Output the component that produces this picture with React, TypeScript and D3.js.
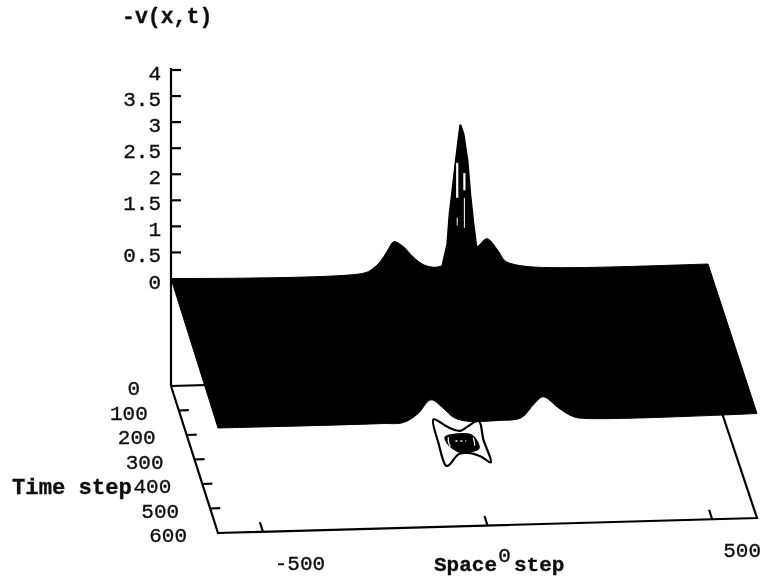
import React from "react";
import * as d3 from "d3";

// Axis ticks
const zTicks = [0.5, 1, 1.5, 2, 2.5, 3, 3.5, 4];
const zLabels = ["0", "0.5", "1", "1.5", "2", "2.5", "3", "3.5", "4"];
const tTicks = [100, 200, 300, 400, 500];
const tLabels = [0, 100, 200, 300, 400, 500, 600];
const xTicks = [-500, 0, 500];

// Surface edge profile at t = 0: space position, height
const backX = [-600, -171, -150, -133, -117, -102, -82, -59, -39, -21, 0, 84, 106, 128, 146, 164, 202, 300, 600];
const backZ = [0, 0, 0.08, 0.21, 0.41, 0.59, 0.5, 0.29, 0.15, 0.09, 0.09, 0.45, 0.6, 0.4, 0.17, 0.1, 0.04, 0, 0];

// Surface edge profile at t = 600
const frontX = [-600, -238, -187, -155, -126, -97, -75, -44, 23, 75, 104, 124, 158, 187, 209, 600];
const frontZ = [0, 0, 0.01, 0.17, 0.43, 0.25, 0.08, 0, 0, 0.04, 0.3, 0.43, 0.21, 0.05, 0, 0];

// Central peak silhouette at t = 255
const peakX = [-45, -39, -28, -23, -17, -10, -3, 1, 8, 17, 23, 30, 37, 42];
const peakZ = [0, 1.33, 1.75, 2.32, 2.75, 3.27, 3.76, 4.03, 3.85, 3.33, 2.7, 2.13, 1.66, 0];

// Gaps between the mesh lines of the peak, t = 255: space position, height from, height to
const gapX = [-6, 10, -6, 10];
const gapFrom = [3.3, 3.1, 2.25, 2.62];
const gapTo = [2.63, 2.77, 2.1, 2.05];

// Contours on the floor: space position, time
const outerX = [-43, -16, 8, 27, 48, 57, 53, 53, 35, 8, -12, -43, -49, -49];
const outerT = [165, 198, 214, 198, 178, 178, 251, 345, 320, 304, 308, 353, 353, 263];
const innerX = [-30, -1, 28, 38, 36, -7, -21, -29];
const innerT = [239, 227, 231, 263, 288, 300, 284, 263];
const arcLX = [-23, -26, -25];
const arcLT = [239, 259, 276];
const arcRX = [32, 31, 29];
const arcRT = [243, 263, 276];
const centerX = [-10, 14];
const centerT = [255, 255];

const u = d3.scaleLinear().domain([-600, 600]).range([0, 1]);
const v = d3.scaleLinear().domain([0, 600]).range([0, 1]);
const zPx = d3.scaleLinear().domain([0, 4]).range([0, 208.5]);

const planeX = (x: number, t: number) => 171 + 537 * u(x) + 47 * v(t) + 2 * u(x) * v(t);
const surfY = (x: number, t: number, z: number) => 278.5 - 14.5 * u(x) + 149.5 * v(t) - zPx(z);
const floorY = (x: number, t: number) => 386 - 15 * u(x) + 147 * v(t);

type P = [number, number];
const surf = (x: number, t: number, z: number): P => [planeX(x, t), surfY(x, t, z)];
const floor = (x: number, t: number): P => [planeX(x, t), floorY(x, t)];

const line = d3.line<P>();
const smooth = d3.line<P>().curve(d3.curveCatmullRomClosed.alpha(0.5));
const open = d3.line<P>().curve(d3.curveCatmullRom.alpha(0.5));

const backPts = backX.map((x, i) => surf(x, 0, backZ[i]));
const frontPts = frontX.map((x, i) => surf(x, 600, frontZ[i]));
const surfacePath = open(backPts)! + "L" + open([...frontPts].reverse())!.slice(1) + "Z";
const peakPath = line(peakX.map((x, i) => surf(x, 255, peakZ[i])))! + "Z";
const outerPath = smooth(outerX.map((x, i) => floor(x, outerT[i])))!;
const innerPath = smooth(innerX.map((x, i) => floor(x, innerT[i])))!;
const arcL = open(arcLX.map((x, i) => floor(x, arcLT[i])))!;
const arcR = open(arcRX.map((x, i) => floor(x, arcRT[i])))!;
const center = line(centerX.map((x, i) => floor(x, centerT[i])))!;

const xLabelDx: Record<number, number> = { [-500]: 37, 0: 17, 500: 30 };
const xLabelDy: Record<number, number> = { [-500]: 38, 0: 36, 500: 38 };
const font = "'Liberation Mono', monospace";

export default function App() {
  const corner = floor(-600, 600);
  const cornerR = floor(600, 600);
  const backL = floor(-600, 0);
  const backR = floor(600, 0);
  const zBase = surf(-600, 0, 0);
  return (
    <svg
      width={761}
      height={580}
      style={{ position: "absolute", left: 0, top: 0, background: "#fff" }}
      fontFamily={font}
      fontSize={21}
      fill="#111"
    >
      <defs>
        <filter id="scan" x="-2%" y="-2%" width="104%" height="104%">
          <feGaussianBlur stdDeviation="0.45" />
        </filter>
      </defs>
      <g filter="url(#scan)">
        <g stroke="#000" strokeWidth={2.2} fill="none">
          <line x1={zBase[0]} y1={68} x2={backL[0]} y2={backL[1]} />
          <path d={line([backL, corner, cornerR, backR, backL])!} />
          {zTicks.map((z) => {
            const y = surfY(-600, 0, z);
            return <line key={z} x1={171} x2={181} y1={y} y2={y} />;
          })}
          {tTicks.map((t) => {
            const p = floor(-600, t);
            return <line key={t} x1={p[0]} x2={p[0] + 10} y1={p[1]} y2={p[1] - 0.3} />;
          })}
          {xTicks.map((x) => {
            const p = floor(x, 600);
            return <line key={x} x1={p[0]} x2={p[0] - 3} y1={p[1]} y2={p[1] - 9.5} />;
          })}
        </g>
        <path d={outerPath} fill="none" stroke="#000" strokeWidth={2.2} />
        <path d={innerPath} fill="#000" stroke="#000" strokeWidth={1.6} />
        <path d={arcL} fill="none" stroke="#fff" strokeWidth={1.2} />
        <path d={arcR} fill="none" stroke="#fff" strokeWidth={1.2} />
        <path d={center} fill="none" stroke="#fff" strokeWidth={1.5} strokeDasharray="2 3" />
        <path d={surfacePath} fill="#000" stroke="#000" strokeWidth={1} />
        <path d={peakPath} fill="#000" stroke="#000" strokeWidth={2} />
        {gapX.map((x, i) => {
          const a = surf(x, 255, gapFrom[i]);
          const b = surf(x, 255, gapTo[i]);
          return (
            <line
              key={i}
              x1={a[0]}
              y1={a[1]}
              x2={b[0]}
              y2={b[1]}
              stroke="#fff"
              strokeWidth={i < 2 ? 2.2 : 1}
            />
          );
        })}
        <g stroke="#111" strokeWidth={0.35}>
          {zLabels.map((s) => (
            <text key={s} x={161} y={surfY(-600, 0, +s) + 10} textAnchor="end">
              {s}
            </text>
          ))}
          {tLabels.map((t) => {
            const p = floor(-600, t);
            return (
              <text key={t} x={p[0] - 31} y={p[1] + 9} textAnchor="end">
                {t}
              </text>
            );
          })}
          {xTicks.map((x) => {
            const p = floor(x, 600);
            return (
              <text key={x} x={p[0] + xLabelDx[x]} y={p[1] + xLabelDy[x]} textAnchor="middle">
                {x}
              </text>
            );
          })}
          <text x={122} y={23} fontWeight="bold" fontSize={21.5}>-v(x,t)</text>
          <text x={12} y={494} fontWeight="bold" fontSize={22.2}>Time step</text>
          <text x={434} y={571} fontWeight="bold">Space</text>
          <text x={514} y={571} fontWeight="bold">step</text>
        </g>
      </g>
    </svg>
  );
}
